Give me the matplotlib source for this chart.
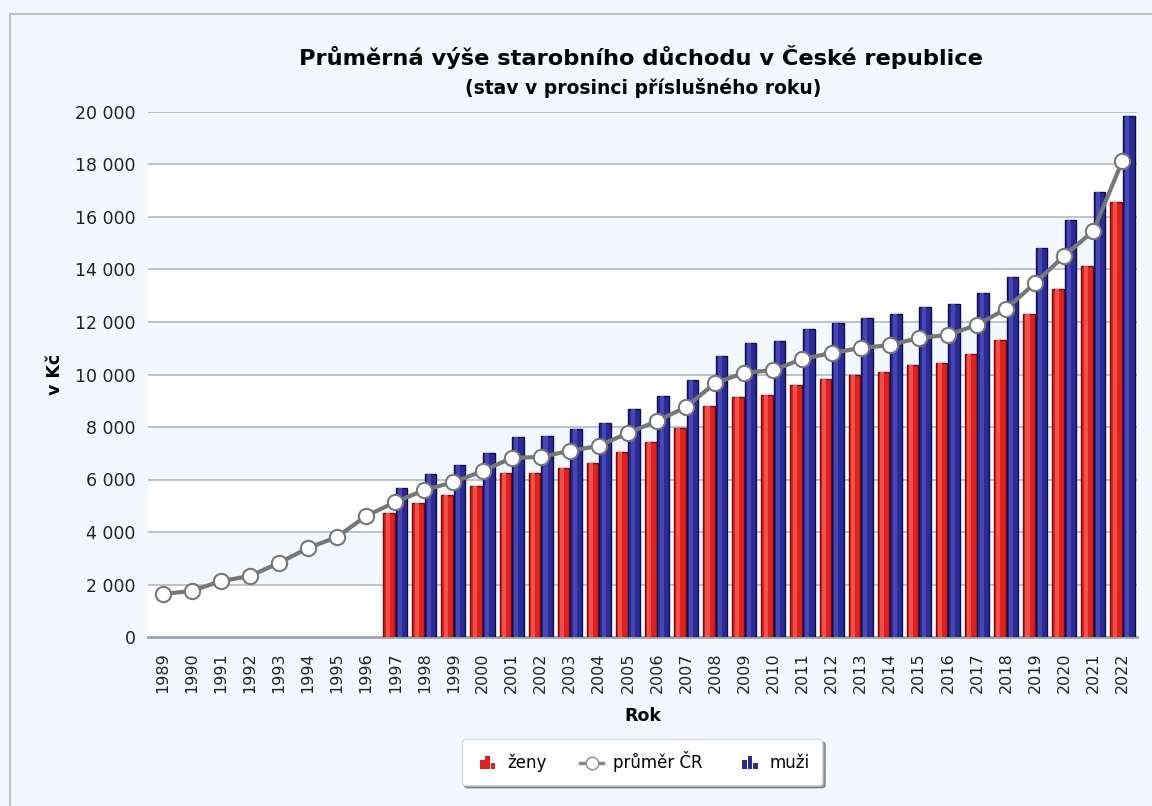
import matplotlib.pyplot as plt
import numpy as np
from matplotlib.legend_handler import HandlerBase
from matplotlib.lines import Line2D
from matplotlib.patches import Patch, Rectangle


years = list(range(1989, 2023))
avg_cr = [1640, 1750, 2130, 2320, 2820, 3390, 3810, 4610, 5140, 5600,
          5900, 6320, 6820, 6860, 7090, 7280, 7770, 8230, 8760, 9680,
          10060, 10170, 10590, 10820, 11010, 11120, 11390, 11510, 11890, 12500,
          13490, 14520, 15470, 18140]

bar_years = list(range(1997, 2023))
women = [4720, 5100, 5410, 5750, 6240, 6240, 6440, 6630, 7050, 7440,
         7960, 8800, 9150, 9220, 9600, 9830, 9980, 10090, 10360, 10440,
         10790, 11320, 12300, 13260, 14130, 16560]
men = [5680, 6210, 6560, 7010, 7620, 7640, 7920, 8150, 8680, 9170,
       9800, 10710, 11190, 11270, 11730, 11970, 12160, 12300, 12570, 12690,
       13110, 13720, 14830, 15900, 16970, 19850]

BG = "#f3f8fc"
RED = "#e3201c"
RED_EDGE = "#7d0a0a"
BLUE = "#2b2b98"
BLUE_EDGE = "#0c0c4e"
GRID = "#b6bec9"


class BarIconHandler(HandlerBase):
    """Malá ikonka sloupcového grafu do legendy."""

    def create_artists(self, legend, orig_handle, xdescent, ydescent,
                       width, height, fontsize, trans):
        color = orig_handle.get_facecolor()
        heights = [0.65, 1.0, 0.45]
        w = width / 5.0
        artists = []
        for i, h in enumerate(heights):
            r = Rectangle((width * 0.25 + i * w * 1.15 - xdescent, -ydescent),
                          w, height * h * 1.1, facecolor=color,
                          edgecolor="none", transform=trans)
            artists.append(r)
        return artists


def fmt_thousands(v, _pos=None):
    return f"{int(v):,}".replace(",", " ")


fig = plt.figure(figsize=(11.52, 8.06), dpi=100)
fig.patch.set_facecolor(BG)
fig.add_artist(Rectangle((10 / 1152, -0.01), 1.5, 1 - 14 / 806 + 0.01,
                         transform=fig.transFigure, facecolor="none",
                         edgecolor="#b9c3cf", linewidth=1.5))

ax = fig.add_axes([148 / 1152, 1 - 637 / 806, (1137 - 148) / 1152, (637 - 112) / 806])
ax.set_facecolor("white")
ax.set_xlim(-0.5, len(years) - 0.5)
ax.set_ylim(0, 20000)

# střídavé pruhy v pozadí
for k, y0 in enumerate(range(0, 20000, 2000)):
    if k % 2 == 1:
        ax.axhspan(y0, y0 + 2000, color=BG, zorder=0, linewidth=0)
for y in range(2000, 20001, 2000):
    ax.axhline(y, color=GRID, linewidth=1.3, zorder=1)

x_all = np.arange(len(years))
x_bars = np.array([years.index(y) for y in bar_years])
bw = 0.40
off = 0.215

ax.bar(x_bars - off, women, width=bw, color=RED, edgecolor=RED_EDGE,
       linewidth=1.0, zorder=3)
ax.bar(x_bars + off, men, width=bw, color=BLUE, edgecolor=BLUE_EDGE,
       linewidth=1.0, zorder=3)
# světlejší proužek pro válcový efekt
ax.bar(x_bars - off - 0.05, women, width=bw * 0.35, color="#f0524a",
       linewidth=0, zorder=3.5)
ax.bar(x_bars + off - 0.05, men, width=bw * 0.35, color="#4646b4",
       linewidth=0, zorder=3.5)

ax.plot(x_all, avg_cr, color="#777777", linewidth=3, marker="o",
        markersize=11, markerfacecolor="white", markeredgecolor="#777777",
        markeredgewidth=1.5, zorder=5)

for side in ["top", "right", "left"]:
    ax.spines[side].set_visible(False)
ax.spines["bottom"].set_color("#9aa3ae")
ax.spines["bottom"].set_linewidth(2)

ax.set_yticks(range(0, 20001, 2000))
ax.yaxis.set_major_formatter(plt.FuncFormatter(fmt_thousands))
ax.set_xticks(x_all)
ax.set_xticklabels([str(y) for y in years], rotation=90)
ax.tick_params(axis="y", length=0, labelsize=12.5, pad=9, colors="#222222")
ax.tick_params(axis="x", length=0, labelsize=11.5, pad=11, colors="#222222")

ax.set_xlabel("Rok", fontsize=12.5, fontweight="bold", labelpad=10)
ax.set_ylabel("v Kč", fontsize=12.5, fontweight="bold", labelpad=8)

fig.text(641 / 1152, 1 - 57 / 806, "Průměrná výše starobního důchodu v České republice",
         ha="center", va="center", fontsize=16.2, fontweight="bold")
fig.text(643 / 1152, 1 - 88 / 806, "(stav v prosinci příslušného roku)",
         ha="center", va="center", fontsize=13.5, fontweight="bold")

h_women = Patch(facecolor=RED)
h_men = Patch(facecolor=BLUE)
h_avg = Line2D([], [], color="#8a8a8a", linewidth=2.5, marker="o",
               markersize=9, markerfacecolor="white", markeredgecolor="#8a8a8a")
leg = fig.legend([h_women, h_avg, h_men], ["ženy", "průměr ČR", "muži"],
                 loc="center", bbox_to_anchor=(642 / 1152, 1 - 762 / 806),
                 ncol=3, frameon=True, fancybox=True, shadow=True,
                 fontsize=12, handlelength=1.4, handletextpad=0.6,
                 columnspacing=2.0, borderpad=0.75,
                 handler_map={Patch: BarIconHandler()})
leg.get_frame().set_facecolor("white")
leg.get_frame().set_edgecolor("#d8dde3")

fig.savefig("out.png", dpi=100, facecolor=fig.get_facecolor())
